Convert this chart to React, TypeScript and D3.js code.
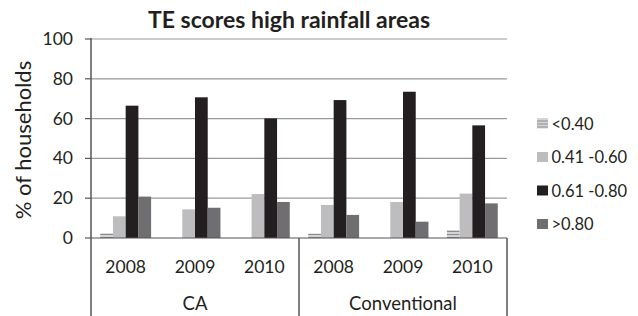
import React from "react";
import * as d3 from "d3";

const years = ["2008", "2009", "2010", "2008", "2009", "2010"];
const groups = ["CA", "Conventional"];
const seriesNames = ["<0.40", "0.41 -0.60", "0.61 -0.80", ">0.80"];
const sLow = [2.4, 0, 0, 2.3, 0, 4.0];
const sMid = [10.9, 14.4, 22.1, 16.6, 18.1, 22.3];
const sHigh = [66.5, 70.7, 60.1, 69.3, 73.5, 56.6];
const sTop = [20.8, 15.2, 18.1, 11.6, 8.2, 17.4];
const yTicks = [0, 20, 40, 60, 80, 100];

const seriesData = [sLow, sMid, sHigh, sTop];
const fills = ["url(#stripes)", "#bdbdbf", "#231f20", "#6f6f71"];

export default function App() {
  const W = 638, H = 316;
  const left = 91, right = 507, top = 39, bottom = 238;
  const font = "Lato, 'Open Sans', sans-serif";
  const y = d3.scaleLinear().domain([0, 100]).range([bottom, top]);
  const x0 = d3.scaleBand<number>().domain(d3.range(years.length)).range([left, right]).paddingInner(0).paddingOuter(0);
  const gw = x0.bandwidth();
  const barW = gw / (4 + 1.45);
  const x1 = d3.scaleBand<number>().domain(d3.range(4)).range([(gw - 4 * barW) / 2, (gw + 4 * barW) / 2]);
  const groupW = (right - left) / groups.length;

  return (
    <svg width={W} height={H} style={{ position: "absolute", left: 0, top: 0 }} fontFamily={font}>
      <defs>
        <pattern id="stripes" width="4" height="3" patternUnits="userSpaceOnUse">
          <rect width="4" height="3" fill="#d4d4d6" />
          <rect width="4" height="1" fill="#8c8c8e" />
        </pattern>
      </defs>
      <rect width={W} height={H} fill="#fff" />
      <text x={289} y={27.5} textAnchor="middle" fontWeight="bold" fontSize={23} fill="#231f20">
        TE scores high rainfall areas
      </text>
      {yTicks.map((t) => (
        <g key={t}>
          {t > 0 && <line x1={left} x2={right} y1={y(t)} y2={y(t)} stroke="#9a9a9a" strokeWidth={1.2} />}
          <line x1={left - 6} x2={left} y1={y(t)} y2={y(t)} stroke="#555" strokeWidth={1.2} />
          <text x={73} y={y(t) + 6} textAnchor="end" fontSize={17.5} fill="#231f20">{t}</text>
        </g>
      ))}
      <text transform={`translate(31,${140}) rotate(-90)`} textAnchor="middle" fontSize={22} fill="#231f20">
        % of households
      </text>
      {years.map((yr, i) => (
        <g key={i} transform={`translate(${x0(i)},0)`}>
          {seriesData.map((s, k) =>
            s[i] > 0 ? (
              <rect key={k} x={x1(k)} width={x1.bandwidth()} y={y(s[i])} height={bottom - y(s[i])} fill={fills[k]} />
            ) : null
          )}
          <text x={gw / 2} y={272.5} textAnchor="middle" fontSize={17.5} fill="#231f20">{yr}</text>
        </g>
      ))}
      <line x1={left} x2={right} y1={bottom} y2={bottom} stroke="#555" strokeWidth={1.2} />
      <line x1={left} x2={left} y1={top - 1} y2={H} stroke="#555" strokeWidth={1.5} />
      {groups.map((g, j) => (
        <g key={g}>
          <line x1={left + groupW * (j + 1)} x2={left + groupW * (j + 1)} y1={bottom} y2={H} stroke="#555" strokeWidth={1.5} />
          <text x={left + groupW * (j + 0.5)} y={309.5} textAnchor="middle" fontSize={18.5} fill="#231f20">{g}</text>
        </g>
      ))}
      {seriesNames.map((n, k) => (
        <g key={n} transform={`translate(537,${123.5 + k * 33.5})`}>
          <rect x={0} y={-5} width={11} height={10} fill={fills[k]} />
          <text x={14.5} y={6} fontSize={16.5} fill="#231f20">{n}</text>
        </g>
      ))}
    </svg>
  );
}
